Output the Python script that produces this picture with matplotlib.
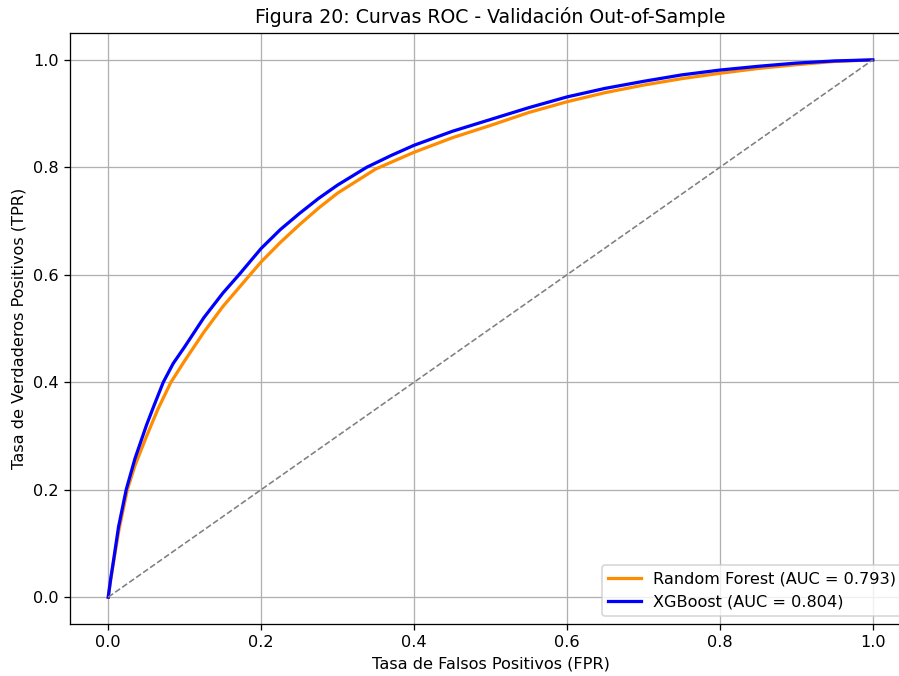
import matplotlib
matplotlib.use("Agg")
import matplotlib.pyplot as plt
import numpy as np

# XGBoost ROC points
xgb_fpr = [0.0, 0.003, 0.007, 0.0135, 0.0235, 0.035, 0.05, 0.06, 0.072, 0.085,
           0.10, 0.125, 0.15, 0.171, 0.2, 0.225, 0.25, 0.275, 0.3, 0.338,
           0.37, 0.4, 0.45, 0.5, 0.55, 0.6, 0.65, 0.7, 0.75, 0.8,
           0.85, 0.9, 0.95, 1.0]
xgb_tpr = [0.0, 0.032, 0.069, 0.131, 0.2, 0.258, 0.32, 0.357, 0.4, 0.435,
           0.466, 0.52, 0.566, 0.6, 0.649, 0.684, 0.714, 0.742, 0.767, 0.8,
           0.822, 0.841, 0.867, 0.889, 0.911, 0.931, 0.947, 0.960, 0.972, 0.981,
           0.988, 0.994, 0.998, 1.0]

# Random Forest ROC points
rf_fpr = [0.0, 0.003, 0.007, 0.014, 0.025, 0.035, 0.05, 0.065, 0.082, 0.10,
          0.125, 0.15, 0.1855, 0.2, 0.225, 0.25, 0.275, 0.3, 0.35, 0.4,
          0.45, 0.5, 0.55, 0.6, 0.65, 0.7, 0.75, 0.8, 0.85, 0.9,
          0.95, 1.0]
rf_tpr = [0.0, 0.03, 0.065, 0.125, 0.2, 0.245, 0.299, 0.35, 0.4, 0.440,
          0.493, 0.541, 0.6, 0.624, 0.660, 0.693, 0.724, 0.752, 0.797, 0.828,
          0.855, 0.878, 0.902, 0.922, 0.939, 0.953, 0.965, 0.975, 0.984, 0.991,
          0.997, 1.0]

labels = ["Random Forest (AUC = 0.793)", "XGBoost (AUC = 0.804)"]
title = "Figura 20: Curvas ROC - Validación Out-of-Sample"

fig = plt.figure(figsize=(899 / 116, 676 / 116), dpi=116)
ax = fig.add_subplot(111)
fig.subplots_adjust(left=70 / 899, right=911 / 899, top=1 - 33 / 676, bottom=1 - 624 / 676)

ax.plot(rf_fpr, rf_tpr, color="darkorange", lw=2, label=labels[0])
ax.plot(xgb_fpr, xgb_tpr, color="blue", lw=2, label=labels[1])
ax.plot([0, 1], [0, 1], linestyle="--", color="gray", lw=1)

ax.set_xlim(-0.05, 1.05)
ax.set_ylim(-0.05, 1.05)
ax.set_xlabel("Tasa de Falsos Positivos (FPR)")
ax.set_ylabel("Tasa de Verdaderos Positivos (TPR)")
ax.set_title(title, fontsize=11.7)
ax.legend(loc="lower right")
ax.grid(True)

fig.savefig("out.png", dpi=116)
